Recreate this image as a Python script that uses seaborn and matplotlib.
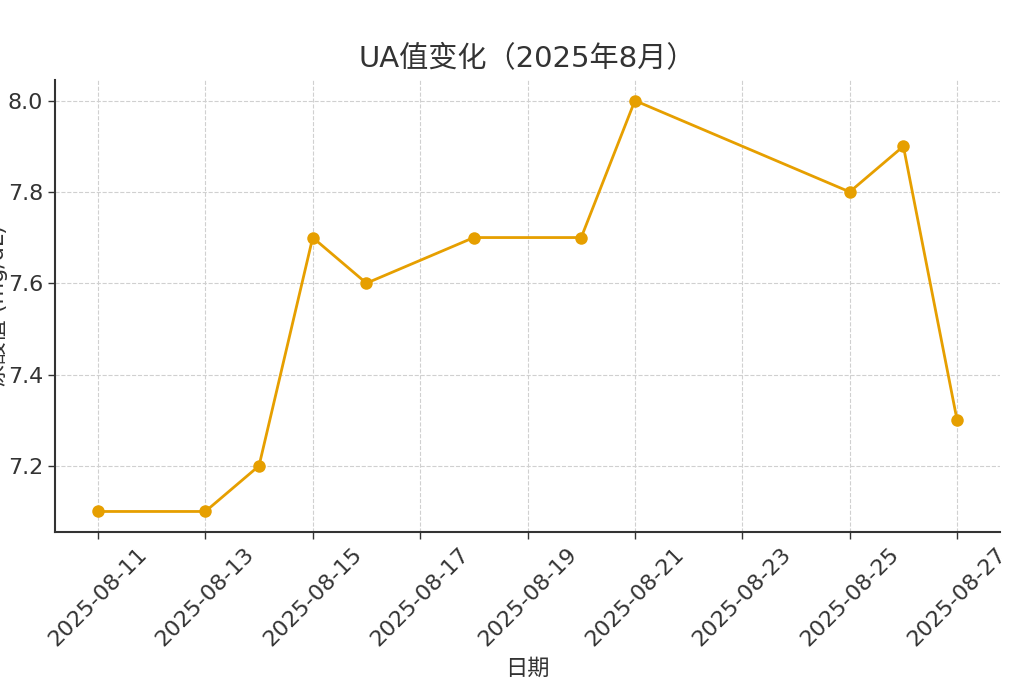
import pandas as pd
import matplotlib.pyplot as plt
import matplotlib.dates as mdates
import seaborn as sns

# UA readings, August 2025
dates = ['2025-08-11', '2025-08-13', '2025-08-14', '2025-08-15', '2025-08-16',
         '2025-08-18', '2025-08-20', '2025-08-21', '2025-08-25', '2025-08-26',
         '2025-08-27']
ua_values = [7.1, 7.1, 7.2, 7.7, 7.6, 7.7, 7.7, 8.0, 7.8, 7.9, 7.3]

title = 'UA值变化（2025年8月）'
x_label = '日期'
y_label = '尿酸值 (mg/dL)'

df = pd.DataFrame({'date': pd.to_datetime(dates), 'ua': ua_values})

sns.set_style('whitegrid', {'grid.linestyle': '--', 'grid.color': '#d0d0d0',
                            'axes.edgecolor': '#333333', 'text.color': '#333333',
                            'xtick.color': '#333333', 'ytick.color': '#333333',
                            'axes.labelcolor': '#333333',
                            'xtick.bottom': True, 'ytick.left': True})
plt.rcParams['font.family'] = ['DejaVu Sans', 'Noto Sans CJK SC']

fig = plt.figure(figsize=(10.24, 6.96), dpi=100)
ax = fig.add_axes([0.0537, 0.2356, 0.9229, 0.6494])

sns.lineplot(data=df, x='date', y='ua', marker='o', color='#E69F00',
             linewidth=2, markersize=9, markeredgewidth=0, ax=ax)

ax.xaxis.set_major_locator(mdates.DayLocator(bymonthday=range(11, 28, 2)))
ax.xaxis.set_major_formatter(mdates.DateFormatter('%Y-%m-%d'))
ax.tick_params(axis='both', labelsize=16, length=5, width=1)
plt.setp(ax.get_xticklabels(), rotation=45, ha='center')

sns.despine(ax=ax)
for s in ['left', 'bottom']:
    ax.spines[s].set_linewidth(1.5)

ax.set_title(title, fontsize=21, color='#333333', pad=10)
ax.set_xlabel(x_label, fontsize=16, labelpad=6)
ax.set_ylabel(y_label, fontsize=16, labelpad=0)

fig.savefig('out.png', dpi=100)
